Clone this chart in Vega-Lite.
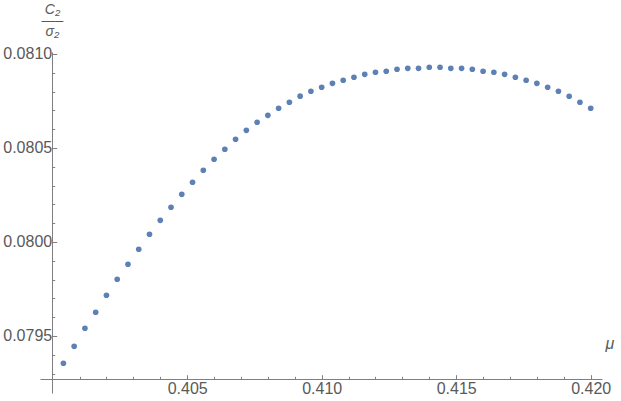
{
  "$schema": "https://vega.github.io/schema/vega-lite/v6.json",
  "autosize": "none",
  "width": 562,
  "height": 341,
  "padding": {"left": 40, "top": 52, "right": 19, "bottom": 8},
  "background": "white",
  "config": {"view": {"stroke": null}},
  "data": {"values": [
    {"mu": 0.4004, "ratio": 0.0793548},
    {"mu": 0.4008, "ratio": 0.0794452},
    {"mu": 0.4012, "ratio": 0.0795410},
    {"mu": 0.4016, "ratio": 0.0796261},
    {"mu": 0.4020, "ratio": 0.0797165},
    {"mu": 0.4024, "ratio": 0.0798016},
    {"mu": 0.4028, "ratio": 0.0798814},
    {"mu": 0.4032, "ratio": 0.0799612},
    {"mu": 0.4036, "ratio": 0.0800410},
    {"mu": 0.4040, "ratio": 0.0801154},
    {"mu": 0.4044, "ratio": 0.0801846},
    {"mu": 0.4048, "ratio": 0.0802537},
    {"mu": 0.4052, "ratio": 0.0803176},
    {"mu": 0.4056, "ratio": 0.0803814},
    {"mu": 0.4060, "ratio": 0.0804399},
    {"mu": 0.4064, "ratio": 0.0804931},
    {"mu": 0.4068, "ratio": 0.0805463},
    {"mu": 0.4072, "ratio": 0.0805941},
    {"mu": 0.4076, "ratio": 0.0806367},
    {"mu": 0.4080, "ratio": 0.0806739},
    {"mu": 0.4084, "ratio": 0.0807112},
    {"mu": 0.4088, "ratio": 0.0807431},
    {"mu": 0.4092, "ratio": 0.0807755},
    {"mu": 0.4096, "ratio": 0.0808016},
    {"mu": 0.4100, "ratio": 0.0808229},
    {"mu": 0.4104, "ratio": 0.0808441},
    {"mu": 0.4108, "ratio": 0.0808601},
    {"mu": 0.4112, "ratio": 0.0808761},
    {"mu": 0.4116, "ratio": 0.0808920},
    {"mu": 0.4120, "ratio": 0.0809027},
    {"mu": 0.4124, "ratio": 0.0809080},
    {"mu": 0.4128, "ratio": 0.0809186},
    {"mu": 0.4132, "ratio": 0.0809239},
    {"mu": 0.4136, "ratio": 0.0809239},
    {"mu": 0.4140, "ratio": 0.0809293},
    {"mu": 0.4144, "ratio": 0.0809293},
    {"mu": 0.4148, "ratio": 0.0809239},
    {"mu": 0.4152, "ratio": 0.0809239},
    {"mu": 0.4156, "ratio": 0.0809186},
    {"mu": 0.4160, "ratio": 0.0809080},
    {"mu": 0.4164, "ratio": 0.0809027},
    {"mu": 0.4168, "ratio": 0.0808920},
    {"mu": 0.4172, "ratio": 0.0808761},
    {"mu": 0.4176, "ratio": 0.0808601},
    {"mu": 0.4180, "ratio": 0.0808441},
    {"mu": 0.4184, "ratio": 0.0808229},
    {"mu": 0.4188, "ratio": 0.0808016},
    {"mu": 0.4192, "ratio": 0.0807750},
    {"mu": 0.4196, "ratio": 0.0807431},
    {"mu": 0.4200, "ratio": 0.0807112}
  ]},
  "resolve": {"axis": {"x": "independent", "y": "independent"}},
  "layer": [
    {
      "mark": {"type": "point", "filled": true, "size": 32, "color": "#5E81B5", "opacity": 1},
      "encoding": {
        "x": {
          "field": "mu", "type": "quantitative",
          "scale": {"domain": [0.39953, 0.42042], "nice": false, "zero": false},
          "axis": {
            "orient": "bottom", "offset": -14, "grid": false,
            "values": [0.405, 0.41, 0.415, 0.42], "format": ".3f",
            "tickSize": -4.3, "tickColor": "#7f7f7f", "domainColor": "#7f7f7f",
            "labelPadding": 5.5, "labelFont": "Liberation Sans", "labelFontSize": 16,
            "labelColor": "#595959", "labelFlush": false, "labelOverlap": false,
            "title": "μ", "titleFont": "Liberation Sans", "titleFontStyle": "italic",
            "titleFontWeight": "normal", "titleFontSize": 16, "titleColor": "#595959",
            "titleX": 565, "titleY": -31, "titleAlign": "left", "titleBaseline": "alphabetic", "titleAngle": 0
          }
        },
        "y": {
          "field": "ratio", "type": "quantitative",
          "scale": {"domain": [0.0791968, 0.0810106], "nice": false, "zero": false},
          "axis": {
            "orient": "left", "offset": -12, "grid": false,
            "values": [0.0795, 0.08, 0.0805, 0.081], "format": ".4f",
            "tickSize": -4.7, "tickColor": "#7f7f7f", "domainColor": "#7f7f7f",
            "labelPadding": 5, "labelFont": "Liberation Sans", "labelFontSize": 16,
            "labelColor": "#595959", "labelOverlap": false, "labelFlush": false,
            "title": ["C₂", "—–", "σ₂"], "titleFont": "Liberation Sans", "titleFontStyle": "italic",
            "titleFontWeight": "normal", "titleFontSize": 14, "titleColor": "#595959",
            "titleLineHeight": 10.75,
            "titleX": 0, "titleY": -38.5, "titleAlign": "center", "titleBaseline": "alphabetic", "titleAngle": 0
          }
        }
      }
    },
    {
      "mark": {"type": "point", "opacity": 0},
      "encoding": {
        "x": {
          "field": "mu", "type": "quantitative",
          "axis": {
            "orient": "bottom", "offset": -14, "grid": false, "domain": false, "labels": false, "title": null,
            "values": [0.401, 0.402, 0.403, 0.404, 0.406, 0.407, 0.408, 0.409, 0.411, 0.412, 0.413, 0.414, 0.416, 0.417, 0.418, 0.419],
            "tickSize": -2.7, "tickColor": "#7f7f7f"
          }
        },
        "y": {
          "field": "ratio", "type": "quantitative",
          "axis": {
            "orient": "left", "offset": -12, "grid": false, "domain": false, "labels": false, "title": null,
            "values": [0.0793, 0.0794, 0.0796, 0.0797, 0.0798, 0.0799, 0.0801, 0.0802, 0.0803, 0.0804, 0.0806, 0.0807, 0.0808, 0.0809],
            "tickSize": -2.7, "tickColor": "#7f7f7f"
          }
        }
      }
    }
  ]
}
